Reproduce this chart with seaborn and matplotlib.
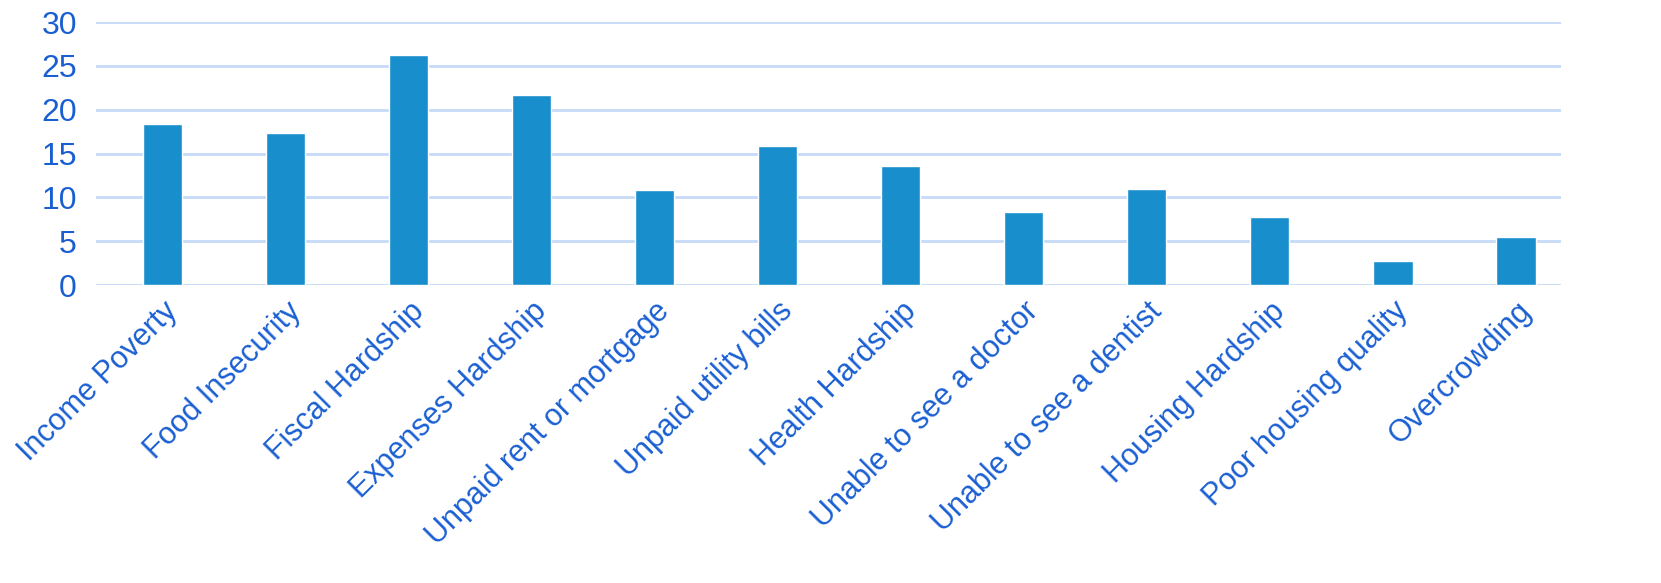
import matplotlib
matplotlib.use("Agg")
import matplotlib.pyplot as plt
import seaborn as sns
import pandas as pd

categories = ['Income Poverty', 'Food Insecurity', 'Fiscal Hardship', 'Expenses Hardship',
              'Unpaid rent or mortgage', 'Unpaid utility bills', 'Health Hardship',
              'Unable to see a doctor', 'Unable to see a dentist', 'Housing Hardship',
              'Poor housing quality', 'Overcrowding']
values = [18.4, 17.3, 26.2, 21.7, 10.8, 15.9, 13.6, 8.35, 11.0, 7.8, 2.8, 5.45]
yticks = [0, 5, 10, 15, 20, 25, 30]

bar_color = '#188ECC'
text_color = '#1A5FD2'
grid_color = '#C6DBF7'

sns.set_theme(style='white')
plt.rcParams['font.family'] = ['Liberation Sans', 'DejaVu Sans']

df = pd.DataFrame({'category': categories, 'value': values})

fig = plt.figure(figsize=(16.61, 5.83), dpi=100)
ax = fig.add_axes([0.058, 0.511, 0.882, 0.451])

sns.barplot(data=df, x='category', y='value', color=bar_color, width=0.32,
            saturation=1, ax=ax, zorder=3)

ax.set_ylim(0, 30)
ax.set_yticks(yticks)
ax.set_xlim(-0.54, 11.37)
ax.yaxis.grid(True, color=grid_color, linewidth=2, zorder=0)
ax.set_axisbelow(True)
for s in ax.spines.values():
    s.set_visible(False)
ax.set_xlabel('')
ax.set_ylabel('')
ax.tick_params(axis='both', length=0, colors=text_color)
ax.tick_params(axis='y', labelsize=23, pad=14)
ax.tick_params(axis='x', labelsize=22, pad=8)
plt.setp(ax.get_xticklabels(), rotation=45, ha='right', rotation_mode='anchor')

fig.savefig('out.png', dpi=100)
